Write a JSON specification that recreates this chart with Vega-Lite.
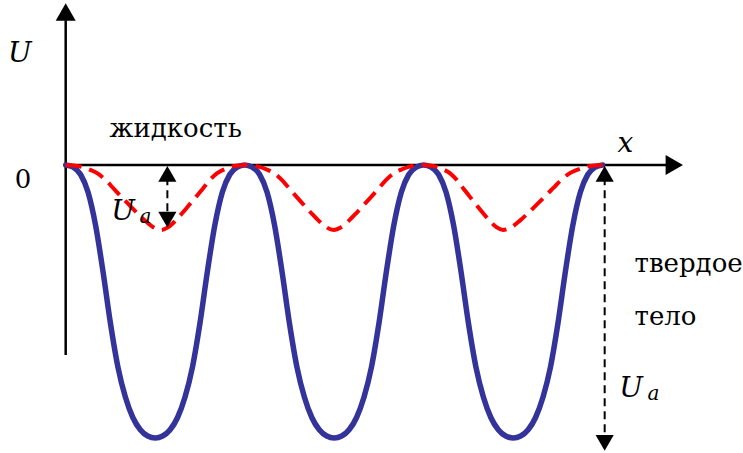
{
  "$schema": "https://vega.github.io/schema/vega-lite/v6.json",
  "width": 743,
  "height": 453,
  "autosize": {"type": "fit", "contains": "padding"},
  "padding": 0,
  "background": "white",
  "config": {"view": {"stroke": null}},
  "encoding": {
    "x": {"field": "x", "type": "quantitative", "scale": {"domain": [-0.367, 3.767], "nice": false, "zero": false}, "axis": null},
    "y": {"field": "y", "type": "quantitative", "scale": {"domain": [-1.055, 0.604], "nice": false, "zero": false}, "axis": null}
  },
  "layer": [
    {
      "data": {"values": [
        {"x": 0, "y": 0, "x2": 3.372, "y2": 0},
        {"x": 0, "y": -0.696, "x2": 0, "y2": 0.53}
      ]},
      "mark": {"type": "rule", "color": "black", "strokeWidth": 2.5},
      "encoding": {"x2": {"field": "x2"}, "y2": {"field": "y2"}}
    },
    {
      "data": {"values": [
        {"x": 3.4, "y": 0, "d": "triangle-right"},
        {"x": 0, "y": 0.56, "d": "triangle-up"}
      ]},
      "mark": {"type": "point", "filled": true, "color": "black", "size": 400, "opacity": 1},
      "encoding": {"shape": {"field": "d", "type": "nominal", "scale": null}}
    },
    {
      "data": {"values": [
        {"x": 0, "y": 0}, {"x": 0.0417, "y": -0.008}, {"x": 0.0833, "y": -0.035}, {"x": 0.125, "y": -0.1}, {"x": 0.1667, "y": -0.22}, {"x": 0.2083, "y": -0.39}, {"x": 0.25, "y": -0.58}, {"x": 0.2917, "y": -0.74}, {"x": 0.3333, "y": -0.85}, {"x": 0.375, "y": -0.925}, {"x": 0.4167, "y": -0.97}, {"x": 0.4583, "y": -0.993}, {"x": 0.5, "y": -1},
        {"x": 0.5417, "y": -0.993}, {"x": 0.5833, "y": -0.97}, {"x": 0.625, "y": -0.925}, {"x": 0.6667, "y": -0.85}, {"x": 0.7083, "y": -0.74}, {"x": 0.75, "y": -0.58}, {"x": 0.7917, "y": -0.39}, {"x": 0.8333, "y": -0.22}, {"x": 0.875, "y": -0.1}, {"x": 0.9167, "y": -0.035}, {"x": 0.9583, "y": -0.008}, {"x": 1, "y": 0},
        {"x": 1.0417, "y": -0.008}, {"x": 1.0833, "y": -0.035}, {"x": 1.125, "y": -0.1}, {"x": 1.1667, "y": -0.22}, {"x": 1.2083, "y": -0.39}, {"x": 1.25, "y": -0.58}, {"x": 1.2917, "y": -0.74}, {"x": 1.3333, "y": -0.85}, {"x": 1.375, "y": -0.925}, {"x": 1.4167, "y": -0.97}, {"x": 1.4583, "y": -0.993}, {"x": 1.5, "y": -1},
        {"x": 1.5417, "y": -0.993}, {"x": 1.5833, "y": -0.97}, {"x": 1.625, "y": -0.925}, {"x": 1.6667, "y": -0.85}, {"x": 1.7083, "y": -0.74}, {"x": 1.75, "y": -0.58}, {"x": 1.7917, "y": -0.39}, {"x": 1.8333, "y": -0.22}, {"x": 1.875, "y": -0.1}, {"x": 1.9167, "y": -0.035}, {"x": 1.9583, "y": -0.008}, {"x": 2, "y": 0},
        {"x": 2.0417, "y": -0.008}, {"x": 2.0833, "y": -0.035}, {"x": 2.125, "y": -0.1}, {"x": 2.1667, "y": -0.22}, {"x": 2.2083, "y": -0.39}, {"x": 2.25, "y": -0.58}, {"x": 2.2917, "y": -0.74}, {"x": 2.3333, "y": -0.85}, {"x": 2.375, "y": -0.925}, {"x": 2.4167, "y": -0.97}, {"x": 2.4583, "y": -0.993}, {"x": 2.5, "y": -1},
        {"x": 2.5417, "y": -0.993}, {"x": 2.5833, "y": -0.97}, {"x": 2.625, "y": -0.925}, {"x": 2.6667, "y": -0.85}, {"x": 2.7083, "y": -0.74}, {"x": 2.75, "y": -0.58}, {"x": 2.7917, "y": -0.39}, {"x": 2.8333, "y": -0.22}, {"x": 2.875, "y": -0.1}, {"x": 2.9167, "y": -0.035}, {"x": 2.9583, "y": -0.008}, {"x": 3, "y": 0}
      ]},
      "mark": {"type": "line", "color": "#333399", "strokeWidth": 5.5, "interpolate": "monotone", "strokeCap": "round", "strokeJoin": "round"},
      "encoding": {"order": {"field": "x", "type": "quantitative"}}
    },
    {
      "data": {"values": [
        {"x": 0, "y": 0}, {"x": 0.0445, "y": -0.002}, {"x": 0.089, "y": -0.007}, {"x": 0.1335, "y": -0.017}, {"x": 0.178, "y": -0.031}, {"x": 0.2225, "y": -0.055}, {"x": 0.267, "y": -0.086}, {"x": 0.3115, "y": -0.117}, {"x": 0.356, "y": -0.147}, {"x": 0.4005, "y": -0.177}, {"x": 0.445, "y": -0.205}, {"x": 0.4895, "y": -0.228}, {"x": 0.534, "y": -0.238},
        {"x": 0.5728, "y": -0.228}, {"x": 0.6117, "y": -0.205}, {"x": 0.6505, "y": -0.177}, {"x": 0.6893, "y": -0.147}, {"x": 0.7282, "y": -0.117}, {"x": 0.767, "y": -0.086}, {"x": 0.8058, "y": -0.055}, {"x": 0.8447, "y": -0.031}, {"x": 0.8835, "y": -0.017}, {"x": 0.9223, "y": -0.007}, {"x": 0.9612, "y": -0.002}, {"x": 1.0, "y": 0},
        {"x": 1.0414, "y": -0.002}, {"x": 1.0828, "y": -0.007}, {"x": 1.1243, "y": -0.017}, {"x": 1.1657, "y": -0.031}, {"x": 1.2071, "y": -0.055}, {"x": 1.2485, "y": -0.086}, {"x": 1.2899, "y": -0.117}, {"x": 1.3313, "y": -0.147}, {"x": 1.3728, "y": -0.177}, {"x": 1.4142, "y": -0.205}, {"x": 1.4556, "y": -0.228}, {"x": 1.497, "y": -0.238},
        {"x": 1.5389, "y": -0.228}, {"x": 1.5808, "y": -0.205}, {"x": 1.6228, "y": -0.177}, {"x": 1.6647, "y": -0.147}, {"x": 1.7066, "y": -0.117}, {"x": 1.7485, "y": -0.086}, {"x": 1.7904, "y": -0.055}, {"x": 1.8323, "y": -0.031}, {"x": 1.8743, "y": -0.017}, {"x": 1.9162, "y": -0.007}, {"x": 1.9581, "y": -0.002}, {"x": 2.0, "y": 0},
        {"x": 2.0369, "y": -0.002}, {"x": 2.0738, "y": -0.007}, {"x": 2.1108, "y": -0.017}, {"x": 2.1477, "y": -0.031}, {"x": 2.1846, "y": -0.055}, {"x": 2.2215, "y": -0.086}, {"x": 2.2584, "y": -0.117}, {"x": 2.2953, "y": -0.147}, {"x": 2.3323, "y": -0.177}, {"x": 2.3692, "y": -0.205}, {"x": 2.4061, "y": -0.228}, {"x": 2.443, "y": -0.238},
        {"x": 2.4894, "y": -0.228}, {"x": 2.5358, "y": -0.205}, {"x": 2.5823, "y": -0.177}, {"x": 2.6287, "y": -0.147}, {"x": 2.6751, "y": -0.117}, {"x": 2.7215, "y": -0.086}, {"x": 2.7679, "y": -0.055}, {"x": 2.8143, "y": -0.031}, {"x": 2.8608, "y": -0.017}, {"x": 2.9072, "y": -0.007}, {"x": 2.9536, "y": -0.002}, {"x": 3.0, "y": 0}
      ]},
      "mark": {"type": "line", "color": "#ff0000", "strokeWidth": 4, "strokeDash": [16, 8], "interpolate": "monotone"},
      "encoding": {"order": {"field": "x", "type": "quantitative"}}
    },
    {
      "data": {"values": [
        {"x": 0.568, "y": -0.045, "x2": 0.568, "y2": -0.19},
        {"x": 3.011, "y": -0.045, "x2": 3.011, "y2": -1.005}
      ]},
      "mark": {"type": "rule", "color": "black", "strokeWidth": 2, "strokeDash": [8, 5]},
      "encoding": {"x2": {"field": "x2"}, "y2": {"field": "y2"}}
    },
    {
      "data": {"values": [
        {"x": 0.568, "y": -0.033, "d": "triangle-up"},
        {"x": 0.568, "y": -0.2, "d": "triangle-down"},
        {"x": 3.011, "y": -0.033, "d": "triangle-up"},
        {"x": 3.011, "y": -1.018, "d": "triangle-down"}
      ]},
      "mark": {"type": "point", "filled": true, "color": "black", "size": 330, "opacity": 1},
      "encoding": {"shape": {"field": "d", "type": "nominal", "scale": null}}
    },
    {
      "data": {"values": [
        {"x": 0.245, "y": 0.103, "t": "жидкость"},
        {"x": 3.178, "y": -0.392, "t": "твердое"},
        {"x": 3.178, "y": -0.586, "t": "тело"},
        {"x": -0.284, "y": -0.084, "t": "0"}
      ]},
      "mark": {"type": "text", "font": "DejaVu Serif", "fontSize": 26, "align": "left", "baseline": "alphabetic", "color": "black"},
      "encoding": {"text": {"field": "t"}}
    },
    {
      "data": {"values": [
        {"x": -0.323, "y": 0.377, "t": "U"},
        {"x": 3.083, "y": 0.048, "t": "x"},
        {"x": 0.255, "y": -0.201, "t": "U"},
        {"x": 3.093, "y": -0.85, "t": "U"}
      ]},
      "mark": {"type": "text", "font": "DejaVu Serif", "fontSize": 28, "fontStyle": "italic", "align": "left", "baseline": "alphabetic", "color": "black"},
      "encoding": {"text": {"field": "t"}}
    },
    {
      "data": {"values": [
        {"x": 0.412, "y": -0.212, "t": "a"},
        {"x": 3.25, "y": -0.861, "t": "a"}
      ]},
      "mark": {"type": "text", "font": "DejaVu Serif", "fontSize": 20, "fontStyle": "italic", "align": "left", "baseline": "alphabetic", "color": "black"},
      "encoding": {"text": {"field": "t"}}
    }
  ]
}
